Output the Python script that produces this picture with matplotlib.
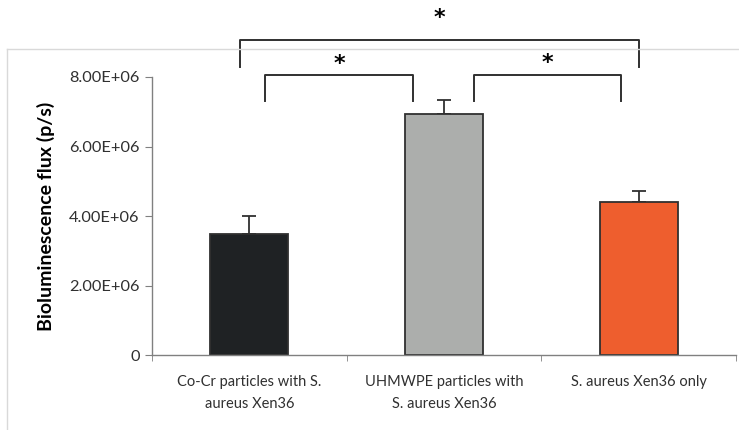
import numpy as np
import matplotlib
matplotlib.use("Agg")
import matplotlib.pyplot as plt
from matplotlib.lines import Line2D

# datos
categorias = ["Co-Cr particles with S.\naureus Xen36",
              "UHMWPE particles with\nS. aureus Xen36",
              "S. aureus Xen36 only"]
flujo = [3.50e6, 6.94e6, 4.42e6]
error = [0.49e6, 0.41e6, 0.31e6]
colores = ["#1f2224", "#acaeac", "#ee5e2e"]
yticks = [0, 2e6, 4e6, 6e6, 8e6]
ytick_labels = ["0", "2.00E+06", "4.00E+06", "6.00E+06", "8.00E+06"]

# corchetes de significancia: (x_izq, x_der, y_barra, y_patas, y_asterisco)
corchetes = [(-0.05, 2.0, 9.05e6, 8.3e6, 9.7e6),
             (0.08, 0.84, 8.06e6, 7.32e6, 8.38e6),
             (1.155, 1.91, 8.06e6, 7.32e6, 8.40e6)]

plt.rcParams['font.family'] = ['Lato', 'DejaVu Sans']

fig = plt.figure(figsize=(7.39, 4.30), dpi=100)
ax = fig.add_axes([0.2057, 0.1737, 0.7903, 0.6473])

x = np.arange(len(categorias))
ax.bar(x, flujo, width=0.4, color=colores, edgecolor="#303030", linewidth=1.3, zorder=2)
# barras de error solo hacia arriba
ax.errorbar(x, flujo, yerr=[np.zeros(len(error)), error], fmt="none",
            ecolor="#303030", elinewidth=1.3, capsize=5, capthick=1.3, zorder=1)

ax.set_xlim(-0.5, 2.5)
ax.set_ylim(0, 8e6)
ax.set_yticks(yticks)
ax.set_yticklabels(ytick_labels, fontsize=11.8, color="#303030")
ax.set_xticks(x)
ax.set_xticklabels(categorias, fontsize=10.5, color="#303030", linespacing=1.75)
ax.tick_params(axis="x", length=0, pad=14)
ax.set_xticks([-0.5, 0.5, 1.5, 2.5], minor=True)
ax.tick_params(axis="x", which="minor", length=4, direction="out", color="#808080")
ax.tick_params(axis="y", length=5, direction="out", color="#808080", pad=4)

for lado in ["top", "right"]:
    ax.spines[lado].set_visible(False)
for lado in ["left", "bottom"]:
    ax.spines[lado].set_color("#808080")
    ax.spines[lado].set_linewidth(1.0)

ax.set_ylabel("Bioluminescence flux (p/s)", fontsize=14, fontweight="bold", labelpad=10)

# corchetes y asteriscos
for x0, x1, yb, yp, ya in corchetes:
    ax.plot([x0, x0, x1, x1], [yp, yb, yb, yp], color="#303030", lw=1.4, clip_on=False)
    ax.text((x0 + x1) / 2, ya, "*", ha="center", va="center", family="DejaVu Sans",
            fontsize=16, fontweight="bold", clip_on=False)

# marco gris del area del grafico
fig.add_artist(Line2D([7 / 739, 7 / 739], [0, 1 - 48.7 / 430], color="#d9d9d9", lw=1.0))
fig.add_artist(Line2D([7 / 739, 1], [1 - 48.7 / 430, 1 - 48.7 / 430], color="#d9d9d9", lw=1.0))

fig.savefig("out.png", dpi=100)
